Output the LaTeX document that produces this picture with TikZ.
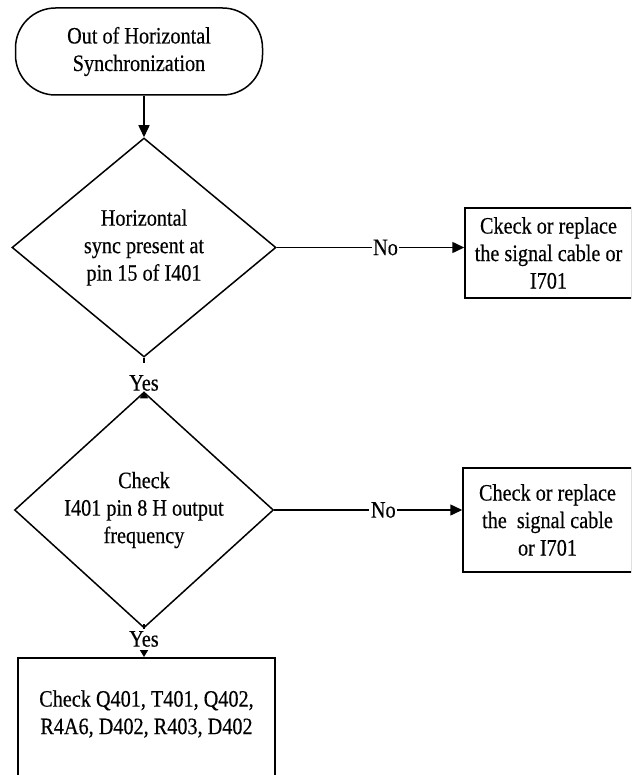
\documentclass[tikz,border=0pt]{standalone}
\usepackage{fontspec}
\setmainfont[FakeStretch=0.86,FakeBold=0.4]{Liberation Serif}
\usetikzlibrary{shapes.geometric,arrows.meta}
\begin{document}
\begin{tikzpicture}[x=1pt,y=-1pt,
  every node/.style={font=\fontsize{23.5}{27.5}\selectfont},
  flow/.style={line width=1.5pt},
  terminal/.style={draw,flow,rounded corners=40pt,minimum width=247pt,minimum height=87pt,align=center,inner sep=0pt},
  decision/.style={draw,flow,diamond,align=center,inner sep=0pt},
  action/.style={draw,flow,rectangle,align=center,inner sep=0pt},
  arrowline/.style={flow,-{Triangle[length=12pt,width=11pt]}},
  smallarrow/.style={flow,-{Triangle[length=7pt,width=8pt]}},
  answer/.style={fill=white,inner xsep=1.5pt},
  yeslabel/.style={inner sep=0pt}]
  \clip (0,0) rectangle (631,775);

  % start of the procedure
  \node[terminal] (start) at (139,51.5) {Out of Horizontal\\Synchronization};

  % first test: sync signal at the IC
  \node[decision,minimum width=264pt,minimum height=219pt] (sync) at (144,247.5)
    {Horizontal\\sync present at\\pin 15 of I401};
  \node[action,minimum width=167pt,minimum height=90pt] (cable1) at (548.5,253)
    {Ckeck or replace\\the signal cable or\\I701};

  % second test: H output frequency
  \node[decision,minimum width=259pt,minimum height=214pt] (freq) at (144,510)
    {Check\\I401 pin 8 H output\\frequency};
  \node[action,minimum width=169pt,minimum height=104pt] (cable2) at (547.5,520)
    {Check or replace\\the~ signal cable\\or I701};

  % final check of the output stage parts
  \node[action,minimum width=257pt,minimum height=160pt,anchor=north] (parts) at (146.5,657) {};
  \node[align=center] (partslist) at (146.5,714) {Check Q401, T401, Q402,\\R4A6, D402, R403, D402};

  % "Yes" answers between the tests
  \node[yeslabel] (yes1) at (144,383) {Yes};
  \node[yeslabel] (yes2) at (144,639) {Yes};

  % connectors
  \draw[arrowline] (sync.north |- start.south) -- (sync.north);
  \draw[arrowline] (sync.east) -- node[answer,pos=0.58] {No} (sync.east -| cable1.west);
  \draw[arrowline] (freq.east) -- node[answer,pos=0.58] {No} (freq.east -| cable2.west);
  \draw[flow] (sync.south) -- ([yshift=12pt]yes1.north);
  \draw[smallarrow] ([yshift=-6pt]yes1.south) -- (freq.north);
  \draw[flow] (freq.south) -- ([yshift=7pt]yes2.north);
  \draw[smallarrow] ([yshift=-3pt]yes2.south) -- (parts.north -| yes2.south);
\end{tikzpicture}
\end{document}
